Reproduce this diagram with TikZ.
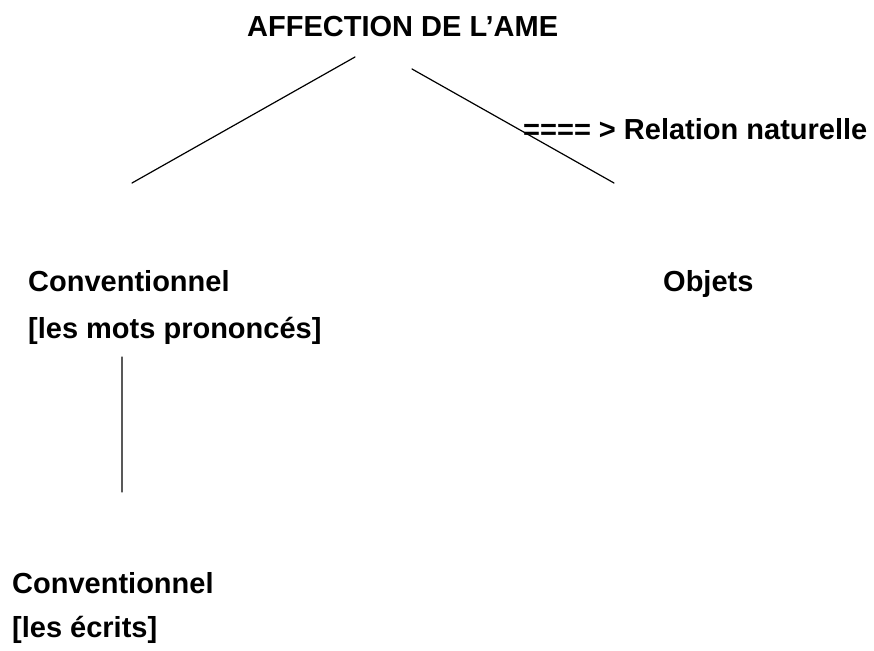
\documentclass[tikz,border=0pt]{standalone}
\usepackage{fontspec}
\setmainfont{Liberation Sans}
\begin{document}
\begin{tikzpicture}[x=1pt, y=-1pt, line join=round, line cap=round,
	txt/.style={anchor=base west, inner sep=0pt, font=\bfseries\fontsize{29}{33}\selectfont}]
				\useasboundingbox (0,0) rectangle (874,650);
				%% Khai bao diem
				\path 
				(355,57) coordinate (A1)
				(132,183) coordinate (B1)
				(412,69) coordinate (A2)
				(614,183) coordinate (B2)
				(122,357) coordinate (C1)
				(122,492) coordinate (C2)
				;
				%% cac nhan
				\node[txt] (ame) at (247,37) {AFFECTION DE L’AME};
				\node[txt] (rel) at (523,139) {==== > Relation naturelle};
				\node[txt] (conv) at (28,291) {Conventionnel};
				\node[txt] (mots) at (28,338) {[les mots prononcés]};
				\node[txt] (obj) at (663,291) {Objets};
				\node[txt] (conv2) at (12,593) {Conventionnel};
				\node[txt] (ecr) at (12,637) {[les écrits]};
				%% ve doan thang
				\draw[line width=1.2pt] (A1)--(B1) (A2)--(B2) (C1)--(C2);
		\end{tikzpicture}
\end{document}
